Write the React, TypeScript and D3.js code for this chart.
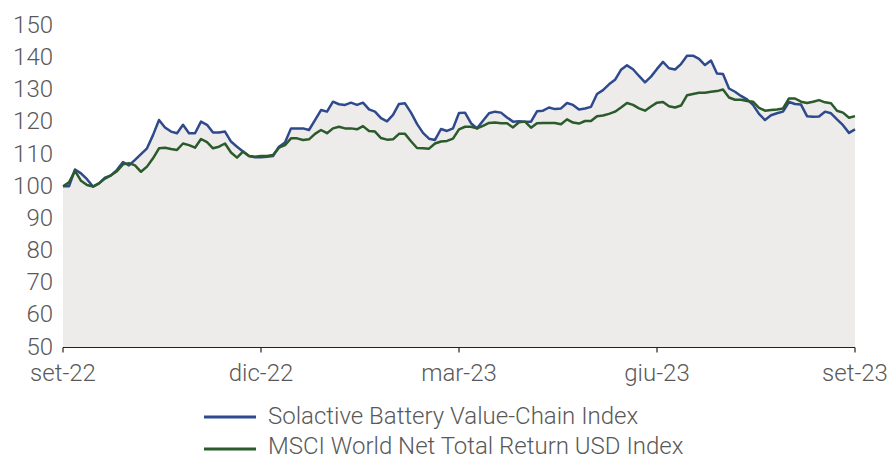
import React from "react";
import * as d3 from "d3";

const xTickLabels = ["set-22", "dic-22", "mar-23", "giu-23", "set-23"];
const yTicks = [50, 60, 70, 80, 90, 100, 110, 120, 130, 140, 150];
const seriesNames = ["Solactive Battery Value-Chain Index", "MSCI World Net Total Return USD Index"];

const solactive = [
  100, 100.0, 105.2, 104.0, 102.2, 99.9, 100.9, 102.7, 103.4, 105.1,
  107.5, 106.5, 108.2, 110.0, 111.8, 115.9, 120.6, 118.3, 117.0, 116.5,
  119.1, 116.5, 116.5, 120.1, 119.1, 116.7, 116.7, 117.0, 113.9, 112.3,
  110.8, 109.4, 109.0, 109.0, 109.2, 109.4, 112.3, 113.6, 118.0, 118.0,
  118.0, 117.5, 120.6, 123.7, 123.2, 126.3, 125.5, 125.3, 126.0, 125.3,
  126.0, 123.9, 123.2, 121.2, 120.2, 122.2, 125.6, 125.8, 122.9, 119.4,
  116.6, 114.8, 114.4, 117.8, 117.2, 118.0, 122.8, 122.9, 119.6, 118.0,
  120.4, 122.7, 123.2, 122.9, 121.4, 120.1, 120.2, 120.1, 120.1, 123.3,
  123.5, 124.5, 124.0, 124.2, 125.9, 125.3, 123.9, 124.2, 124.7, 128.7,
  129.9, 131.7, 133.1, 136.2, 137.6, 136.4, 134.3, 132.3, 134.1, 136.5,
  138.7, 136.7, 136.3, 138.0, 140.6, 140.6, 139.6, 137.7, 139.1, 135.1,
  134.9, 130.4, 129.4, 128.1, 127.0, 125.3, 122.5, 120.6, 122.1, 122.7,
  123.2, 126.2, 125.6, 125.4, 121.8, 121.6, 121.7, 123.2, 122.7, 120.8,
  119.0, 116.6, 117.7,
];

const msciWorld = [
  100, 101.2, 104.8, 101.7, 100.4, 99.9, 100.9, 102.4, 103.4, 104.7,
  106.8, 107.2, 106.5, 104.5, 106.1, 108.7, 111.8, 112.0, 111.6, 111.3,
  113.3, 112.8, 112.0, 114.7, 113.7, 111.8, 112.3, 113.3, 110.5, 108.9,
  110.8, 109.4, 109.2, 109.4, 109.4, 109.7, 112.0, 112.8, 114.9, 114.9,
  114.4, 114.6, 116.3, 117.5, 116.5, 118.0, 118.5, 118.0, 118.0, 117.7,
  118.7, 117.2, 117.0, 115.0, 114.5, 114.6, 116.3, 116.3, 114.0, 111.9,
  111.8, 111.7, 113.3, 113.9, 114.1, 114.8, 117.7, 118.5, 118.5, 118.0,
  118.8, 119.7, 119.8, 119.6, 119.6, 118.3, 119.9, 120.1, 118.2, 119.6,
  119.7, 119.7, 119.7, 119.3, 120.8, 119.8, 119.5, 120.3, 120.3, 121.8,
  122.0, 122.5, 123.2, 124.5, 125.9, 125.3, 124.2, 123.5, 124.8, 126.0,
  126.2, 124.9, 124.5, 125.1, 128.3, 128.7, 129.1, 129.1, 129.4, 129.6,
  130.1, 127.6, 126.9, 126.9, 126.5, 126.3, 124.4, 123.5, 123.7, 123.9,
  124.2, 127.3, 127.3, 126.3, 125.9, 126.3, 126.8, 126.1, 125.8, 123.5,
  122.9, 121.3, 121.8,
];

const W = 891;
const H = 460;
const left = 63;
const right = 855;
const colors = ["#2f4a8c", "#2b5a2b"];
const fillColor = "#edeceb";
const textColor = "#595959";
const font = "Roboto, 'Noto Sans', sans-serif";
const fs = 24;

export default function App() {
  const n = solactive.length;
  const x = d3.scaleLinear().domain([0, n - 1]).range([left, right]);
  const y = d3.scaleLinear().domain([50, 150]).range([347, 25.5]);
  const series = [solactive, msciWorld];

  const area = d3
    .area<number>()
    .x((_, i) => x(i))
    .y0(y(50))
    .y1((d) => y(d));
  const line = d3
    .line<number>()
    .x((_, i) => x(i))
    .y((d) => y(d));

  const tickPos = xTickLabels.map((_, k) => ((n - 1) * k) / (xTickLabels.length - 1));
  const axisY = y(50) + 0.5;

  return (
    <svg width={W} height={H} style={{ position: "absolute", left: 0, top: 0 }} fontFamily={font}>
      <rect width={W} height={H} fill="#ffffff" />
      {series.map((s, k) => (
        <path key={"a" + k} d={area(s) || ""} fill={fillColor} stroke="none" />
      ))}
      {series.map((s, k) => (
        <path
          key={"l" + k}
          d={line(s) || ""}
          fill="none"
          stroke={colors[k]}
          strokeWidth={2.5}
          strokeLinejoin="round"
        />
      ))}
      <line x1={left} x2={right} y1={axisY} y2={axisY} stroke="#222" strokeWidth={1.2} />
      {tickPos.map((t, k) => (
        <g key={"xt" + k}>
          <line x1={x(t)} x2={x(t)} y1={axisY} y2={axisY + 5} stroke="#222" strokeWidth={1.2} />
          <text x={x(t)} y={381} textAnchor="middle" fontSize={fs} fontWeight={300} fill={textColor}>
            {xTickLabels[k]}
          </text>
        </g>
      ))}
      {yTicks.map((v) => (
        <text
          key={"yt" + v}
          x={53}
          y={y(v) + 7.5}
          textAnchor="end"
          fontSize={fs}
          fontWeight={300}
          fill={textColor}
        >
          {v}
        </text>
      ))}
      {seriesNames.map((name, k) => (
        <g key={"lg" + k}>
          <line
            x1={204}
            x2={256}
            y1={417 + k * 32}
            y2={417 + k * 32}
            stroke={colors[k]}
            strokeWidth={3}
          />
          <text x={268} y={424 + k * 30} fontSize={fs} fontWeight={300} fill={textColor}>
            {name}
          </text>
        </g>
      ))}
    </svg>
  );
}
